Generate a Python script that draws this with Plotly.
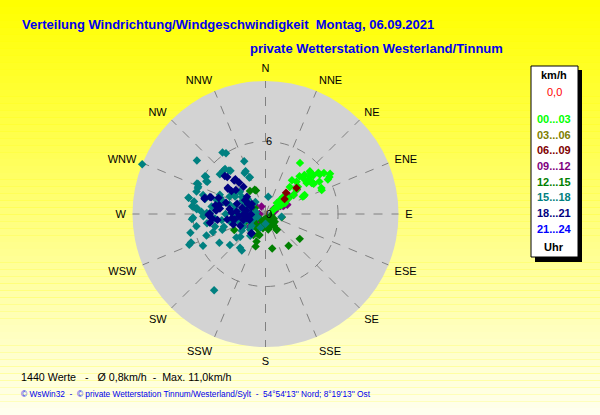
import plotly.graph_objects as go

# Wind direction (deg) and speed (km/h) per time-of-day group
dir_00_03 = [34, 45, 47, 52, 53, 55, 57, 50, 48, 59, 55, 60, 58, 67, 65, 50, 52, 56, 56, 61, 61, 60, 59, 63,
             46, 51, 52, 54, 61, 56, 58, 65, 64, 65, 42, 38, 44, 42, 46, 46, 46]
spd_00_03 = [5.1, 4.55, 4.3, 4.5, 4.25, 4.66, 4.7, 4.8, 5.05, 5.2, 5.9, 6.1, 6.3, 5.05, 3.5, 3.5, 3.25, 2.8,
             2.3, 1.85, 1.5, 1.2, 0.9, 0.7, 5.1, 5.1, 5.55, 5.55, 5.9, 4.6, 4.7, 5.1, 3.6, 3.4, 3.0, 3.55,
             3.7, 4.2, 2.05, 1.7, 1.3]

dir_03_06 = []
spd_03_06 = []

dir_06_09 = [50, 44, 52]
spd_06_09 = [3.35, 2.45, 2.0]

dir_09_12 = [56, 54, 67, 57, 66, 71, 58, 52, 59, 59, 59, 232, 220, 332, 284, 276, 288, 310, 270, 65, 62, 240, 265]
spd_09_12 = [2.8, 2.45, 1.96, 1.94, 1.6, 0.85, 0.8, 3.3, 1.8, 1.3, 1.06, 1.7, 1.0, 0.7, 1.3, 1.7, 1.06, 1.15,
             0.5, 1.7, 1.4, 1.2, 0.9]

dir_12_15 = [126, 144, 169, 197, 198, 196, 144, 144, 160, 167, 101, 338, 326, 336, 243, 210, 199, 263, 262,
             194, 167, 159, 145, 172, 140, 200, 150, 120, 220, 240, 260, 100, 180, 230, 170, 130, 250, 280,
             300, 210, 190]
spd_12_15 = [3.5, 3.25, 2.9, 2.8, 2.4, 1.8, 1.2, 1.6, 1.1, 1.0, 1.37, 2.1, 2.3, 2.2, 2.9, 2.0, 1.8, 2.0, 1.5,
             0.5, 0.45, 1.06, 1.6, 1.1, 1.0, 0.9, 0.6, 0.8, 1.2, 1.0, 0.8, 0.5, 0.4, 0.6, 1.3, 1.0, 1.7, 1.3,
             1.0, 1.4, 1.2]

dir_15_18 = [292, 308, 325, 327, 338, 302, 299, 294, 292, 311, 316, 320, 335, 336, 282, 276, 274, 267, 256,
             260, 248, 249, 250, 261, 272, 271, 214, 238, 251, 256, 253, 250, 231, 228, 229, 286, 290, 286, 9,
             100, 243, 217, 213, 318, 321, 333, 337, 302, 299, 294, 291, 288, 282, 280, 276, 275, 287, 284,
             278, 293, 266, 268, 271, 265, 262, 296, 302, 311, 306,
             265, 270, 275, 280, 285, 290, 260, 255, 250, 245, 240, 295, 300, 275, 262, 248, 230, 285, 270,
             258, 300, 310, 320, 235, 225, 280, 250, 200, 215, 180]
spd_15_18 = [11.0, 7.2, 6.2, 6.0, 4.7, 5.8, 5.5, 6.2, 6.0, 5.0, 5.0, 4.7, 3.9, 3.3, 6.5, 6.1, 5.7, 6.0, 6.4,
             5.8, 6.8, 6.6, 5.2, 4.9, 5.3, 4.6, 7.6, 4.5, 4.6, 4.3, 3.6, 3.8, 3.1, 2.8, 3.9, 4.2, 4.0, 3.6, 1.45,
             1.35, 5.8, 3.5, 3.6, 5.0, 4.6, 3.8, 3.3, 5.9, 5.6, 6.1, 6.0, 6.0, 6.5, 6.0, 6.0, 5.7, 5.4, 5.15,
             4.5, 4.1, 6.1, 5.15, 4.86, 4.2, 3.65, 3.3, 3.0, 2.8, 2.4,
             2.5, 2.2, 2.7, 2.0, 2.6, 1.8, 1.6, 2.3, 1.9, 1.4, 2.1, 1.5, 2.2, 1.2, 1.0, 1.1, 1.5, 3.1, 3.3,
             3.0, 2.9, 1.9, 1.3, 2.4, 1.8, 0.8, 0.7, 1.2, 2.2, 0.8]

dir_18_21 = [314, 317, 320, 321, 305, 304, 289, 287, 284, 280, 277, 269, 266, 216, 304, 302, 263, 270, 265,
             275, 252, 306, 267, 256, 313, 319, 309, 304, 287, 285, 270, 274, 261, 263, 281, 313, 216,
             270, 265, 275, 280, 260, 255, 285, 290, 295, 250, 268, 278, 262, 300, 245, 272, 286, 258]
spd_18_21 = [4.4, 3.8, 3.4, 2.9, 3.8, 3.4, 4.1, 4.8, 5.2, 4.2, 3.8, 4.7, 4.5, 2.0, 2.05, 1.7, 2.8, 4.6, 4.4,
             4.05, 2.8, 1.4, 1.55, 1.43, 4.6, 3.8, 3.15, 3.75, 4.7, 5.2, 4.65, 4.1, 4.65, 4.0, 3.9, 2.1, 1.96,
             1.8, 2.2, 2.4, 1.6, 2.6, 1.9, 2.0, 2.5, 1.3, 1.4, 1.2, 3.0, 3.2, 1.7, 2.3, 2.8, 3.4, 1.6]

dir_21_24 = []
spd_21_24 = []

group_labels = ["00...03", "03...06", "06...09", "09...12", "12...15", "15...18", "18...21", "21...24"]
group_colors = ["#00ff00", "#808000", "#800000", "#800080", "#008000", "#008080", "#000080", "#0000ff"]
group_dirs = [dir_00_03, dir_03_06, dir_06_09, dir_09_12, dir_12_15, dir_15_18, dir_18_21, dir_21_24]
group_spds = [spd_00_03, spd_03_06, spd_06_09, spd_09_12, spd_12_15, spd_15_18, spd_18_21, spd_21_24]

compass = ["N", "NNE", "NE", "ENE", "E", "ESE", "SE", "SSE",
           "S", "SSW", "SW", "WSW", "W", "WNW", "NW", "NNW"]
compass_deg = [i * 22.5 for i in range(16)]

W, H = 600, 415

fig = go.Figure()

# drawing order chosen so the overlaps look like the original
draw_order = [1, 3, 4, 5, 6, 7, 0, 2]
for k in draw_order:
    fig.add_trace(go.Scatterpolar(
        r=group_spds[k], theta=group_dirs[k], mode="markers", name=group_labels[k],
        marker=dict(symbol="diamond", size=6.5, color=group_colors[k], line=dict(width=0)),
        showlegend=False,
    ))

# yellow gradient background
shapes = []
n = 60
for i in range(n):
    t = i / (n - 1)
    b = int(0 + 238 * t)
    shapes.append(dict(type="rect", xref="paper", yref="paper", layer="below",
                       x0=0, x1=1, y0=1 - (i + 1) / n, y1=1 - i / n,
                       fillcolor=f"rgb(255,255,{b})", line=dict(width=0)))

# legend box with shadow
def px(x):
    return x / W

def py(y):
    return 1 - y / H

shapes.append(dict(type="rect", xref="paper", yref="paper", x0=px(535), x1=px(582), y0=py(262), y1=py(70),
                   fillcolor="black", line=dict(width=0)))
shapes.append(dict(type="rect", xref="paper", yref="paper", x0=px(531), x1=px(578), y0=py(257), y1=py(66),
                   fillcolor="white", line=dict(color="black", width=1)))

annotations = []
annotations.append(dict(text="<b>km/h</b>", x=px(554), y=py(75), font=dict(size=11, color="black")))
annotations.append(dict(text="0,0", x=px(554), y=py(92), font=dict(size=11, color="#ff0000")))
for i, (label, color) in enumerate(zip(group_labels, group_colors)):
    annotations.append(dict(text=f"<b>{label}</b>", x=px(554), y=py(119 + i * 15.7),
                            font=dict(size=11, color=color)))
annotations.append(dict(text="<b>Uhr</b>", x=px(554), y=py(247), font=dict(size=11, color="black")))

annotations.append(dict(text="<b>Verteilung Windrichtung/Windgeschwindigkeit  Montag, 06.09.2021</b>",
                        x=px(20), y=py(25), xanchor="left",
                        font=dict(size=13, color="#0000ee")))
annotations.append(dict(text="<b>private Wetterstation Westerland/Tinnum</b>",
                        x=px(248), y=py(49), xanchor="left",
                        font=dict(size=13, color="#0000ee")))
annotations.append(dict(text="1440 Werte   -   Ø 0,8km/h  -  Max. 11,0km/h",
                        x=px(19), y=py(377), xanchor="left",
                        font=dict(size=10.7, color="black")))
annotations.append(dict(text="© WsWin32  -  © private Wetterstation Tinnum/Westerland/Sylt  -  54°54'13'' Nord; 8°19'13'' Ost",
                        x=px(19), y=py(394), xanchor="left",
                        font=dict(size=8.3, color="#0000ee")))

for a in annotations:
    a.update(xref="paper", yref="paper", showarrow=False)
    a.setdefault("xanchor", "center")
    a["yanchor"] = "middle"

fig.update_layout(
    width=W, height=H,
    margin=dict(l=0, r=0, t=0, b=0),
    paper_bgcolor="#ffff00",
    font=dict(family="Liberation Sans, Arial", size=11, color="black"),
    shapes=shapes,
    annotations=annotations,
    polar=dict(
        domain=dict(x=[132.5 / W, 398.5 / W], y=[1 - 347 / H, 1 - 81 / H]),
        bgcolor="#d3d3d3",
        angularaxis=dict(
            direction="clockwise", rotation=90,
            tickmode="array", tickvals=compass_deg, ticktext=compass,
            ticks="outside", ticklen=4, tickcolor="rgba(0,0,0,0)",
            showline=False, showgrid=True, gridcolor="#808080", griddash="dash", gridwidth=1,
            tickfont=dict(size=11, color="black"),
        ),
        radialaxis=dict(
            range=[0, 11], angle=90, tickangle=90,
            tickmode="array", tickvals=[0, 6], ticktext=["0", "6"],
            showline=False, showgrid=True, gridcolor="#808080", griddash="dash", gridwidth=1,
            ticks="", tickfont=dict(size=11, color="black"),
        ),
    ),
)

fig.write_html("out.html", config={"displayModeBar": False},
               post_script="document.body.style.margin='0';")
